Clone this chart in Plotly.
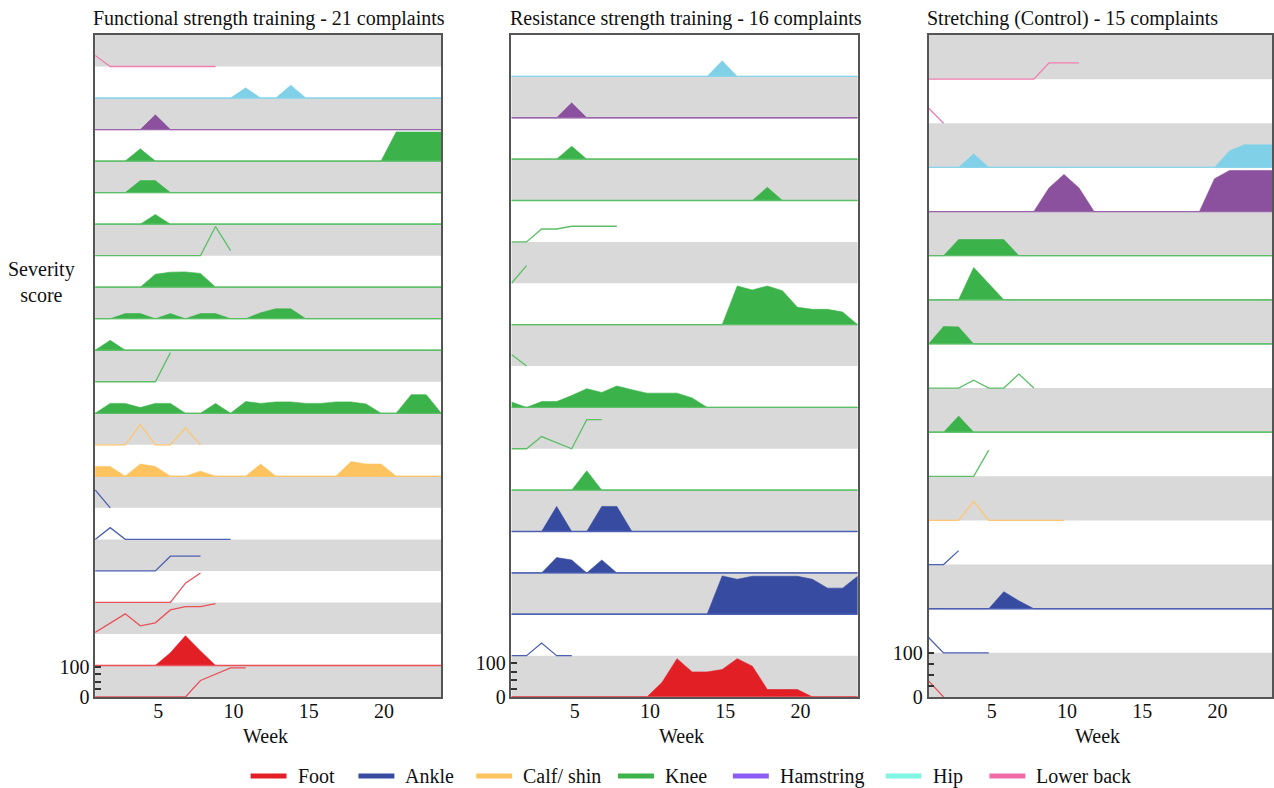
import plotly.graph_objects as go

# ---------------- data ----------------
WEEKS = list(range(1, 25))
REGIONS = ["Foot", "Ankle", "Calf/ shin", "Knee", "Hamstring", "Hip", "Lower back"]

PANEL_TITLES = [
    "Functional strength training - 21 complaints",
    "Resistance strength training - 16 complaints",
    "Stretching (Control) - 15 complaints",
]

# rows listed bottom -> top; kind "fill" = filled area with full-width baseline, "line" = line only
FUNC_REGION = ["Foot", "Foot", "Foot", "Foot", "Ankle", "Ankle", "Ankle", "Calf/ shin", "Calf/ shin",
               "Knee", "Knee", "Knee", "Knee", "Knee", "Knee", "Knee", "Knee", "Knee",
               "Hamstring", "Hip", "Lower back"]
FUNC_KIND = ["line", "fill", "line", "line", "line", "line", "line", "fill", "line",
             "fill", "line", "fill", "fill", "fill", "line", "fill", "fill", "fill",
             "fill", "fill", "line"]
FUNC_VALUES = [
    [0, 0, 0, 0, 0, 0, 0, 55, 76, 97, 97],
    [0, 0, 0, 0, 0, 42, 99, 48, 0, 0, 0, 0, 0, 0, 0, 0, 0, 0, 0, 0, 0, 0, 0, 0],
    [5, 36, 67, 27, 37, 80, 91, 91, 101],
    [0, 0, 0, 0, 0, 0, 64, 98],
    [0, 0, 0, 0, 0, 49, 49, 49],
    [0, 39, 0, 0, 0, 0, 0, 0, 0, 0],
    [60, 0],
    [33, 33, 0, 41, 33, 0, 0, 17, 0, 0, 0, 41, 0, 0, 0, 0, 0, 49, 41, 41, 0, 0, 0, 0],
    [0, 0, 0, 67, 0, 0, 56, 0],
    [0, 33, 33, 19, 33, 33, 0, 0, 33, 0, 39, 33, 38, 38, 33, 33, 38, 38, 31, 0, 0, 62, 62, 0],
    [0, 0, 0, 0, 0, 97],
    [0, 33, 0, 0, 0, 0, 0, 0, 0, 0, 0, 0, 0, 0, 0, 0, 0, 0, 0, 0, 0, 0, 0, 0],
    [0, 0, 17, 17, 0, 17, 0, 17, 17, 0, 0, 20, 33, 33, 0, 0, 0, 0, 0, 0, 0, 0, 0, 0],
    [0, 0, 0, 0, 43, 50, 51, 46, 0, 0, 0, 0, 0, 0, 0, 0, 0, 0, 0, 0, 0, 0, 0, 0],
    [0, 0, 0, 0, 0, 0, 0, 0, 97, 17],
    [0, 0, 0, 0, 32, 0, 0, 0, 0, 0, 0, 0, 0, 0, 0, 0, 0, 0, 0, 0, 0, 0, 0, 0],
    [0, 0, 0, 40, 40, 0, 0, 0, 0, 0, 0, 0, 0, 0, 0, 0, 0, 0, 0, 0, 0, 0, 0, 0],
    [0, 0, 0, 41, 0, 0, 0, 0, 0, 0, 0, 0, 0, 0, 0, 0, 0, 0, 0, 0, 97, 97, 97, 97],
    [0, 0, 0, 0, 49, 0, 0, 0, 0, 0, 0, 0, 0, 0, 0, 0, 0, 0, 0, 0, 0, 0, 0, 0],
    [0, 0, 0, 0, 0, 0, 0, 0, 0, 0, 34, 0, 0, 43, 0, 0, 0, 0, 0, 0, 0, 0, 0, 0],
    [37, 0, 0, 0, 0, 0, 0, 0, 0],
]

RES_REGION = ["Foot", "Ankle", "Ankle", "Ankle", "Ankle", "Knee", "Knee", "Knee", "Knee",
              "Knee", "Knee", "Knee", "Knee", "Knee", "Hamstring", "Hip"]
RES_KIND = ["fill", "line", "fill", "fill", "fill", "fill", "line", "fill", "line",
            "fill", "line", "line", "fill", "fill", "fill", "fill"]
RES_VALUES = [
    [0, 0, 0, 0, 0, 0, 0, 0, 0, 0, 43, 113, 74, 74, 81, 113, 91, 22, 22, 22, 0, 0, 0, 0],
    [0, 0, 37, 0, 0],
    [0, 0, 0, 0, 0, 0, 0, 0, 0, 0, 0, 0, 0, 0, 113, 103, 112, 112, 112, 112, 103, 77, 77, 112],
    [0, 0, 0, 45, 38, 0, 38, 0, 0, 0, 0, 0, 0, 0, 0, 0, 0, 0, 0, 0, 0, 0, 0, 0],
    [0, 0, 0, 74, 0, 0, 74, 74, 0, 0, 0, 0, 0, 0, 0, 0, 0, 0, 0, 0, 0, 0, 0, 0],
    [0, 0, 0, 0, 0, 57, 0, 0, 0, 0, 0, 0, 0, 0, 0, 0, 0, 0, 0, 0, 0, 0, 0, 0],
    [0, 0, 36, 18, 0, 86, 86],
    [16, 0, 17, 17, 35, 55, 44, 63, 52, 42, 42, 42, 28, 0, 0, 0, 0, 0, 0, 0, 0, 0, 0, 0],
    [34, 0],
    [0, 0, 0, 0, 0, 0, 0, 0, 0, 0, 0, 0, 0, 0, 0, 114, 102, 114, 100, 51, 45, 45, 37, 0],
    [0, 52],
    [0, 0, 38, 38, 46, 46, 46, 46],
    [0, 0, 0, 0, 0, 0, 0, 0, 0, 0, 0, 0, 0, 0, 0, 0, 0, 39, 0, 0, 0, 0, 0, 0],
    [0, 0, 0, 0, 38, 0, 0, 0, 0, 0, 0, 0, 0, 0, 0, 0, 0, 0, 0, 0, 0, 0, 0, 0],
    [0, 0, 0, 0, 44, 0, 0, 0, 0, 0, 0, 0, 0, 0, 0, 0, 0, 0, 0, 0, 0, 0, 0, 0],
    [0, 0, 0, 0, 0, 0, 0, 0, 0, 0, 0, 0, 0, 0, 46, 0, 0, 0, 0, 0, 0, 0, 0, 0],
]

STR_REGION = ["Foot", "Ankle", "Ankle", "Ankle", "Calf/ shin", "Knee", "Knee", "Knee", "Knee",
              "Knee", "Knee", "Hamstring", "Hip", "Lower back", "Lower back"]
STR_KIND = ["line", "line", "fill", "line", "line", "line", "fill", "line", "fill",
            "fill", "fill", "fill", "fill", "line", "line"]
STR_VALUES = [
    [37, 0],
    [35, 0, 0, 0, 0],
    [0, 0, 0, 0, 0, 39, 18, 0, 0, 0, 0, 0, 0, 0, 0, 0, 0, 0, 0, 0, 0, 0, 0, 0],
    [0, 0, 32],
    [0, 0, 0, 44, 0, 0, 0, 0, 0, 0],
    [0, 0, 0, 0, 60],
    [0, 0, 37, 0, 0, 0, 0, 0, 0, 0, 0, 0, 0, 0, 0, 0, 0, 0, 0, 0, 0, 0, 0, 0],
    [0, 0, 0, 18, 0, 0, 32, 0],
    [0, 40, 39, 0, 0, 0, 0, 0, 0, 0, 0, 0, 0, 0, 0, 0, 0, 0, 0, 0, 0, 0, 0, 0],
    [0, 0, 0, 74, 37, 0, 0, 0, 0, 0, 0, 0, 0, 0, 0, 0, 0, 0, 0, 0, 0, 0, 0, 0],
    [0, 0, 37, 37, 37, 37, 0, 0, 0, 0, 0, 0, 0, 0, 0, 0, 0, 0, 0, 0, 0, 0, 0, 0],
    [0, 0, 0, 0, 0, 0, 0, 0, 54, 85, 54, 0, 0, 0, 0, 0, 0, 0, 0, 75, 94, 94, 94, 94],
    [0, 0, 0, 31, 0, 0, 0, 0, 0, 0, 0, 0, 0, 0, 0, 0, 0, 0, 0, 0, 38, 52, 52, 52],
    [35, 0],
    [0, 0, 0, 0, 0, 0, 0, 0, 37, 37, 37],
]

Y_TICKS = [0, 25, 50, 75, 100]
Y_TICK_TEXT = ["0", "", "", "", "100"]
X_TICKS = [5, 10, 15, 20]

# ---------------- styles ----------------
FILL_COLORS = {"Foot": "#e31f26", "Ankle": "#374ca1", "Calf/ shin": "#fdc35e", "Knee": "#3bb34a",
               "Hamstring": "#8b509e", "Hip": "#80d1e8", "Lower back": "#ef7bab"}
LINE_COLORS = {"Foot": "#e9525a", "Ankle": "#4d60b3", "Calf/ shin": "#fdc670", "Knee": "#5cbf67",
               "Hamstring": "#9a66ab", "Hip": "#8ad5ea", "Lower back": "#f07fae"}
LEGEND_COLORS = {"Foot": "#e31f26", "Ankle": "#374ca1", "Calf/ shin": "#fdc35e", "Knee": "#3bb34a",
                 "Hamstring": "#8b5cf6", "Hip": "#7ff5e2", "Lower back": "#f06aa8"}
LEGEND_PX = [251, 359, 477, 619, 734, 887, 991]   # legend symbol left edges (layout)
BAND = "#d9d9d9"
FONT = "Liberation Serif"

W, HREF = 1274, 788          # reference picture size (positions below are in its pixels)
HPX = 799                     # rendered figure height
PX_LEFT = [95.3, 512.3, 930.0]
PX_RIGHT = [442.0, 859.0, 1274.0]
PX_TOP, PX_BOTTOM = 35.0, 697.0
PX_PER_WEEK = (442.0 - 95.3) / 23.0
ROW_UNITS = [105, 122, 101]

panels = [
    (FUNC_REGION, FUNC_KIND, FUNC_VALUES),
    (RES_REGION, RES_KIND, RES_VALUES),
    (STR_REGION, STR_KIND, STR_VALUES),
]


def fx(px):
    return px / W


def fy(py):
    return 1 - py / HREF


fig = go.Figure()
shapes = []
annotations = []

for k, (regs, kinds, vals) in enumerate(panels):
    n = k + 1
    xa = "x" if n == 1 else f"x{n}"
    ya = "y" if n == 1 else f"y{n}"
    H = ROW_UNITS[k]
    nrows = len(regs)
    for i in range(nrows):
        if i % 2 == 0:
            shapes.append(dict(type="rect", xref=f"{xa} domain", yref=ya, x0=0, x1=1,
                               y0=i * H, y1=(i + 1) * H, fillcolor=BAND,
                               line=dict(width=0), layer="below"))
        base = i * H
        r = regs[i]
        v = vals[i]
        if kinds[i] == "fill":
            xs = WEEKS[:len(v)]
            top = [base + val for val in v]
            fig.add_trace(go.Scatter(x=xs + xs[::-1], y=top + [base] * len(xs), mode="lines",
                                     fill="toself", fillcolor=FILL_COLORS[r],
                                     line=dict(color=FILL_COLORS[r], width=0.6),
                                     xaxis=xa, yaxis=ya, showlegend=False, hoverinfo="skip"))
            fig.add_trace(go.Scatter(x=WEEKS, y=[base] * len(WEEKS), mode="lines",
                                     line=dict(color=LINE_COLORS[r], width=1.3),
                                     xaxis=xa, yaxis=ya, showlegend=False, hoverinfo="skip"))
        else:
            fig.add_trace(go.Scatter(x=WEEKS[:len(v)], y=[base + val for val in v], mode="lines",
                                     line=dict(color=LINE_COLORS[r], width=1.3),
                                     xaxis=xa, yaxis=ya, showlegend=False, hoverinfo="skip"))

    x_hi = 1 + (PX_RIGHT[k] - PX_LEFT[k]) / PX_PER_WEEK
    axis_common = dict(showline=True, mirror=True, linecolor="#555555", linewidth=1.5,
                       showgrid=False, zeroline=False)
    fig.layout[f"xaxis{'' if n == 1 else n}"] = dict(
        domain=[fx(PX_LEFT[k]), fx(PX_RIGHT[k])], range=[1, x_hi], anchor=ya,
        tickmode="array", tickvals=X_TICKS, ticks="", ticklabelshift=3, ticklabelstandoff=-5,
        tickfont=dict(family=FONT, size=20, color="#111"), **axis_common)
    fig.layout[f"yaxis{'' if n == 1 else n}"] = dict(
        domain=[fy(PX_BOTTOM), fy(PX_TOP)], range=[0, nrows * H], anchor=xa,
        tickmode="array", tickvals=Y_TICKS, ticktext=Y_TICK_TEXT, ticks="inside",
        ticklen=6, tickwidth=1.5, tickcolor="#333333",
        tickfont=dict(family=FONT, size=20, color="#111"), **axis_common)

    annotations.append(dict(text=PANEL_TITLES[k], x=fx(PX_LEFT[k] - 4), y=fy(18),
                            xref="paper", yref="paper", xanchor="left", yanchor="middle",
                            showarrow=False, font=dict(family=FONT, size=20, color="#111")))
    cx = (PX_LEFT[k] + min(PX_RIGHT[k], PX_LEFT[k] + 23 * PX_PER_WEEK)) / 2
    annotations.append(dict(text="Week", x=fx(cx - 3), y=fy(736), xref="paper", yref="paper",
                            xanchor="center", yanchor="middle", showarrow=False,
                            font=dict(family=FONT, size=20, color="#111")))

annotations.append(dict(text="Severity<br>score", x=fx(42), y=fy(282), xref="paper", yref="paper",
                        xanchor="center", yanchor="middle", showarrow=False, align="center",
                        font=dict(family=FONT, size=20, color="#111")))

# legend drawn as short thick lines plus text labels
for r, lx in zip(REGIONS, LEGEND_PX):
    shapes.append(dict(type="line", xref="paper", yref="paper", x0=fx(lx), x1=fx(lx + 36),
                       y0=fy(776), y1=fy(776), line=dict(color=LEGEND_COLORS[r], width=5)))
    annotations.append(dict(text=r, x=fx(lx + 45), y=fy(776), xref="paper", yref="paper",
                            xanchor="left", yanchor="middle", showarrow=False,
                            font=dict(family=FONT, size=20, color="#111")))

fig.update_layout(
    width=W, height=HPX, margin=dict(l=0, r=0, t=0, b=0),
    paper_bgcolor="white", plot_bgcolor="white",
    shapes=shapes, annotations=annotations, showlegend=False,
    font=dict(family=FONT),
)

fig.write_html(
    "out.html",
    config={"displayModeBar": False},
    post_script=("document.documentElement.style.margin='0';document.body.style.margin='0';"
                 "document.documentElement.style.overflow='hidden';document.body.style.overflow='hidden';"
                 "var gd=document.getElementById('{plot_id}');gd.style.position='fixed';"
                 "gd.style.top='0px';gd.style.left='0px';"),
)
